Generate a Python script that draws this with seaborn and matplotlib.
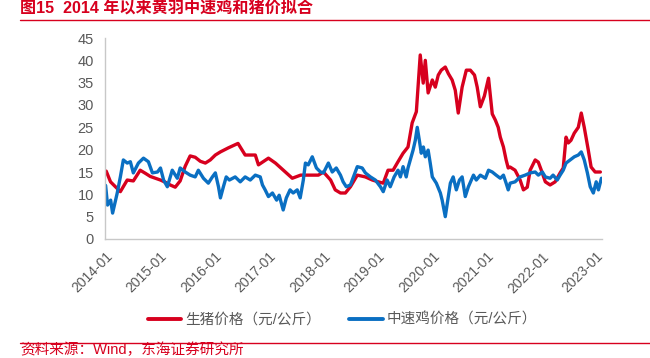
import matplotlib
matplotlib.use("Agg")
import matplotlib.pyplot as plt
import matplotlib.dates as mdates
from matplotlib.lines import Line2D
import seaborn as sns
import pandas as pd

# ---------------- data ----------------
pig_dates = ["2014-01-05", "2014-02-03", "2014-04-10", "2014-05-26", "2014-07-06", "2014-08-21",
             "2014-09-25", "2014-10-28", "2014-12-01", "2015-01-04", "2015-02-06", "2015-03-10",
             "2015-04-13", "2015-05-16", "2015-06-19", "2015-07-22", "2015-08-25", "2015-09-28",
             "2015-11-01", "2015-12-04", "2016-01-07", "2016-02-10", "2016-04-03", "2016-06-07",
             "2016-07-25", "2016-10-01", "2016-10-22", "2016-12-28", "2017-02-13", "2017-06-06",
             "2017-08-01", "2017-10-06", "2017-11-28", "2018-01-01", "2018-02-18", "2018-03-21",
             "2018-04-25", "2018-05-28", "2018-07-01", "2018-08-16", "2018-10-09", "2018-11-25",
             "2019-01-04", "2019-02-06", "2019-03-10", "2019-04-13", "2019-05-16", "2019-06-19",
             "2019-07-22", "2019-08-19", "2019-09-16", "2019-10-12", "2019-11-01", "2019-11-15",
             "2019-12-04", "2020-01-01", "2020-01-21", "2020-02-10", "2020-03-01", "2020-03-28",
             "2020-04-18", "2020-05-13", "2020-06-03", "2020-06-23", "2020-07-19", "2020-08-16",
             "2020-09-12", "2020-10-10", "2020-10-28", "2020-11-18", "2020-12-15", "2021-01-12",
             "2021-02-06", "2021-02-27", "2021-03-18", "2021-04-01", "2021-04-22", "2021-05-10",
             "2021-05-24", "2021-06-06", "2021-07-09", "2021-08-12", "2021-09-03", "2021-09-29",
             "2021-10-18", "2021-11-21", "2021-12-12", "2022-01-01", "2022-01-28", "2022-03-01",
             "2022-04-04", "2022-05-07", "2022-05-28", "2022-06-16", "2022-07-01", "2022-07-19",
             "2022-08-10", "2022-09-06", "2022-09-26", "2022-10-16", "2022-11-12", "2022-12-01",
             "2022-12-28", "2023-02-01"]
pig_price = [15.2, 12.8, 10.6, 13.2, 13.0, 15.4,
             14.7, 14.0, 13.6, 13.2, 12.7, 12.1,
             11.6, 13.0, 16.3, 18.6, 18.3, 17.4,
             17.0, 17.7, 18.8, 19.5, 20.4, 21.4,
             18.8, 18.8, 16.6, 18.1, 17.0, 13.6,
             14.3, 14.3, 14.3, 15.0, 13.2, 11.0,
             10.3, 10.3, 11.7, 14.3, 13.9, 13.2,
             12.8, 12.5, 15.4, 15.4, 17.3, 19.2,
             20.6, 26.0, 28.5, 41.2, 34.9, 40.0,
             32.7, 35.6, 34.0, 36.7, 37.8, 38.5,
             37.0, 35.6, 33.3, 28.2, 34.0, 37.8,
             37.8, 36.7, 34.0, 29.6, 32.0, 36.0,
             28.0, 26.6, 25.0, 22.8, 20.6, 17.7,
             15.9, 16.1, 15.4, 13.2, 11.0, 11.6,
             15.4, 17.7, 17.2, 15.4, 12.8, 12.1,
             12.8, 14.8, 15.9, 22.8, 21.5, 22.1,
             23.7, 25.0, 28.2, 25.0, 19.9, 16.1,
             15.0, 15.0]

chicken_dates = ["2014-01-01", "2014-01-14", "2014-02-04", "2014-02-17", "2014-03-20", "2014-04-10",
                 "2014-04-30", "2014-05-26", "2014-06-16", "2014-07-06", "2014-08-09", "2014-09-12",
                 "2014-10-15", "2014-11-11", "2014-12-15", "2015-01-04", "2015-01-25", "2015-02-19",
                 "2015-03-24", "2015-04-27", "2015-05-16", "2015-06-19", "2015-07-22", "2015-08-25",
                 "2015-09-15", "2015-10-19", "2015-11-21", "2015-12-18", "2016-01-07", "2016-01-28",
                 "2016-02-10", "2016-03-01", "2016-03-20", "2016-04-10", "2016-05-19", "2016-06-22",
                 "2016-07-25", "2016-08-28", "2016-10-01", "2016-11-03", "2016-11-18", "2016-12-06",
                 "2016-12-28", "2017-01-24", "2017-02-21", "2017-03-10", "2017-04-06", "2017-04-27",
                 "2017-05-22", "2017-06-12", "2017-07-09", "2017-07-29", "2017-08-19", "2017-09-02",
                 "2017-09-21", "2017-10-18", "2017-11-15", "2017-12-12", "2018-01-01", "2018-02-03",
                 "2018-03-01", "2018-03-28", "2018-04-25", "2018-05-13", "2018-06-03", "2018-07-01",
                 "2018-07-26", "2018-08-16", "2018-09-18", "2018-10-09", "2018-11-12", "2018-12-15",
                 "2019-01-18", "2019-02-06", "2019-03-04", "2019-03-25", "2019-04-20", "2019-05-16",
                 "2019-06-01", "2019-06-19", "2019-07-10", "2019-07-22", "2019-08-06", "2019-08-25",
                 "2019-09-09", "2019-09-22", "2019-10-06", "2019-10-19", "2019-11-02", "2019-11-15",
                 "2019-12-04", "2019-12-18", "2020-01-01", "2020-01-28", "2020-02-24", "2020-03-07",
                 "2020-03-28", "2020-04-17", "2020-05-01", "2020-05-20", "2020-06-10", "2020-07-01",
                 "2020-07-19", "2020-08-09", "2020-08-30", "2020-09-19", "2020-10-03", "2020-10-22",
                 "2020-11-18", "2020-12-22", "2021-01-12", "2021-02-06", "2021-03-04", "2021-04-01",
                 "2021-04-22", "2021-05-10", "2021-05-24", "2021-06-06", "2021-07-09", "2021-08-12",
                 "2021-09-15", "2021-10-18", "2021-11-21", "2021-12-12", "2022-01-08", "2022-01-28",
                 "2022-03-01", "2022-03-21", "2022-04-18", "2022-05-07", "2022-05-28", "2022-06-16",
                 "2022-07-13", "2022-08-10", "2022-09-06", "2022-09-26", "2022-10-16", "2022-11-06",
                 "2022-11-25", "2022-12-16", "2023-01-04", "2023-01-19", "2023-02-08"]
chicken_price = [12.0, 7.6, 8.7, 5.8, 10.3, 13.9,
                 17.7, 17.0, 17.3, 14.8, 17.0, 18.1,
                 17.3, 14.8, 15.0, 15.9, 13.2, 11.7,
                 15.4, 13.6, 15.9, 15.0, 14.3, 13.9,
                 15.4, 13.6, 12.5, 13.9, 14.8, 11.7,
                 9.2, 11.7, 13.9, 13.2, 13.9, 12.8,
                 13.9, 13.2, 14.3, 13.9, 12.1, 11.0,
                 9.5, 10.3, 8.7, 9.8, 6.5, 9.2,
                 11.0, 10.3, 11.0, 9.2, 13.2, 17.0,
                 16.6, 18.4, 15.9, 15.0, 14.8, 17.0,
                 15.0, 15.9, 14.3, 12.8, 11.7, 12.1,
                 14.3, 16.2, 15.9, 14.8, 13.9, 13.2,
                 11.7, 10.6, 13.2, 11.7, 13.9, 15.4,
                 13.9, 16.2, 13.9, 15.9, 17.7, 19.9,
                 22.1, 25.0, 22.1, 19.2, 20.6, 18.4,
                 19.9, 17.0, 13.9, 12.5, 10.3, 8.7,
                 5.0, 9.5, 12.5, 13.9, 11.0, 13.2,
                 13.9, 9.5, 11.7, 13.2, 14.3, 13.2,
                 14.3, 13.6, 15.4, 15.0, 14.3, 13.6,
                 14.3, 12.5, 11.0, 12.5, 12.8, 13.9,
                 14.3, 14.8, 15.0, 14.3, 15.0, 13.9,
                 13.6, 14.3, 13.2, 14.3, 15.4, 17.0,
                 17.7, 18.4, 18.8, 19.5, 17.7, 14.8,
                 11.7, 10.3, 12.8, 11.0, 13.6]

series_labels = ["生猪价格（元/公斤）", "中速鸡价格（元/公斤）"]
title_text = "图15  2014 年以来黄羽中速鸡和猪价拟合"
source_text = "资料来源：Wind，东海证券研究所"
y_ticks = [0, 5, 10, 15, 20, 25, 30, 35, 40, 45]
x_tick_years = list(range(2014, 2024))

# ---------------- style ----------------
sns.set_theme(style="white")
plt.rcParams["font.family"] = ["Liberation Sans", "Noto Sans CJK SC", "DejaVu Sans"]

RED = "#D7001E"
BLUE = "#0A6FC2"
GREY = "#595959"
AXGREY = "#C8C8C8"

pig_df = pd.DataFrame({"date": pd.to_datetime(pig_dates), "price": pig_price})
chk_df = pd.DataFrame({"date": pd.to_datetime(chicken_dates), "price": chicken_price})

fig = plt.figure(figsize=(6.5, 3.58), dpi=100)
ax = fig.add_axes([105 / 650, 1 - 239 / 358, 497 / 650, (239 - 38) / 358])

sns.lineplot(data=pig_df, x="date", y="price", ax=ax, color=RED, linewidth=2.4, label=None)
sns.lineplot(data=chk_df, x="date", y="price", ax=ax, color=BLUE, linewidth=2.4, label=None)

ax.set_xlim(pd.Timestamp("2013-12-28"), pd.Timestamp("2023-02-12"))
ax.set_ylim(0, 45)
ax.set_yticks(y_ticks)
ax.set_xticks([pd.Timestamp(f"{y}-01-01") for y in x_tick_years])
ax.xaxis.set_major_formatter(mdates.DateFormatter("%Y-%m"))
ax.set_xlabel("")
ax.set_ylabel("")

for s in ["top", "right"]:
    ax.spines[s].set_visible(False)
for s in ["left", "bottom"]:
    ax.spines[s].set_color(AXGREY)
    ax.spines[s].set_linewidth(1.0)

ax.tick_params(axis="both", which="major", direction="out", length=4, width=1,
               color=AXGREY, labelcolor=GREY, labelsize=10.5)
ax.tick_params(axis="y", pad=4)
for lab in ax.get_xticklabels():
    lab.set_rotation(45)
    lab.set_ha("right")
    lab.set_rotation_mode("anchor")
    lab.set_fontsize(10)

# legend
handles = [Line2D([], [], color=RED, lw=2.8), Line2D([], [], color=BLUE, lw=2.8)]
leg = fig.legend(handles, series_labels, loc="center", bbox_to_anchor=(0.527, 1 - 320 / 358),
                 ncol=2, frameon=False, fontsize=10.5, handlelength=2.3, handletextpad=0.3,
                 columnspacing=1.9)
for t in leg.get_texts():
    t.set_color(GREY)

# title and source
fig.text(20 / 650, 1 - 8 / 358, title_text, color=RED, fontsize=11.6, fontweight="bold",
         ha="left", va="center", family=["Liberation Sans", "Noto Sans CJK SC"])
fig.add_artist(Line2D([20 / 650, 1.0], [1 - 19.5 / 358, 1 - 19.5 / 358], color=RED, lw=1.0,
                      transform=fig.transFigure))
fig.add_artist(Line2D([20 / 650, 1.0], [1 - 343 / 358, 1 - 343 / 358], color=RED, lw=1.0,
                      transform=fig.transFigure))
fig.text(20 / 650, 0.5 / 358, source_text, color=RED, fontsize=10.5,
         ha="left", va="bottom", family=["Liberation Sans", "Noto Sans CJK SC"])

fig.savefig("out.png", dpi=100)
